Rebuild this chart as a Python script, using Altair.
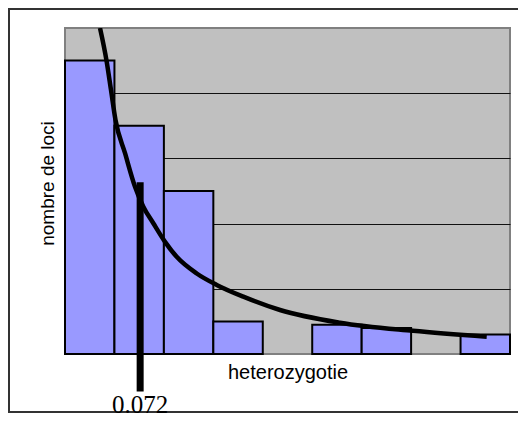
import altair as alt
import pandas as pd

# Histogram bins (bin index units along heterozygotie axis)
bin_start = [0, 1, 2, 3, 4, 5, 6, 7, 8]
bin_end = [1, 2, 3, 4, 5, 6, 7, 8, 9]
counts = [9, 7, 5, 1, 0, 0.9, 0.8, 0, 0.6]

# Fitted curve
curve_x = [0.708, 0.843, 0.930, 1.021, 1.214, 1.416, 1.584, 1.786, 2.023, 2.259,
           2.664, 3.068, 3.606, 4.349, 5.562, 7.039, 8.529]
curve_y = [10.0, 8.97, 8.10, 7.18, 6.16, 5.13, 4.52, 4.01, 3.44, 2.98,
           2.47, 2.12, 1.76, 1.35, 0.96, 0.71, 0.53]

# Marker line at the observed value
marker_x = [1.52]
marker_top = [5.27]
marker_bottom = [-1.15]
marker_label = ["0.072"]
label_y = [-1.81]

W, H = 445, 326

bars_df = pd.DataFrame({"start": bin_start, "end": bin_end, "count": counts})
curve_df = pd.DataFrame({"x": curve_x, "y": curve_y})
marker_df = pd.DataFrame({"x": marker_x, "top": marker_top, "bottom": marker_bottom,
                          "label": marker_label, "ly": label_y})

xscale = alt.Scale(domain=[0, 9], nice=False, zero=False)
yscale = alt.Scale(domain=[0, 10], nice=False)

x_axis = alt.Axis(title="heterozygotie", labels=False, ticks=False, domain=False,
                  grid=False, titleFont="Liberation Sans", titleFontSize=20,
                  titleFontWeight="normal", titleColor="black", titlePadding=8)
y_axis = alt.Axis(title="nombre de loci", labels=False, ticks=False, domain=False,
                  grid=True, values=[2, 4, 6, 8], gridColor="#111111", gridWidth=1,
                  gridOpacity=1, titleFont="Liberation Sans", titleFontSize=19,
                  titleFontWeight="normal", titleColor="black", titlePadding=8,
                  titleY=155)

border = alt.Chart(alt.Data(values=[{}])).mark_rect(
    fill="white", fillOpacity=0, stroke="#333333", strokeWidth=2
).encode(
    x=alt.value(-56), x2=alt.value(W + 40),
    y=alt.value(-19), y2=alt.value(384),
)

bars = alt.Chart(bars_df).transform_filter("datum.count > 0").mark_rect(
    fill="#9999FF", stroke="black", strokeWidth=2
).encode(
    x=alt.X("start:Q", scale=xscale, axis=x_axis),
    x2="end:Q",
    y=alt.Y("count:Q", scale=yscale, axis=y_axis),
    y2=alt.datum(0),
)

curve = alt.Chart(curve_df).mark_line(
    color="black", strokeWidth=4.5, interpolate="monotone", clip=True
).encode(
    x=alt.X("x:Q", scale=xscale, axis=x_axis),
    y=alt.Y("y:Q", scale=yscale, axis=y_axis),
)

marker = alt.Chart(marker_df).mark_rule(color="black", strokeWidth=7).encode(
    x=alt.X("x:Q", scale=xscale, axis=x_axis),
    y=alt.Y("top:Q", scale=yscale, axis=y_axis),
    y2="bottom:Q",
)

label = alt.Chart(marker_df).mark_text(
    font="Liberation Serif", fontSize=25, color="black", baseline="alphabetic", align="center"
).encode(
    x=alt.X("x:Q", scale=xscale, axis=x_axis),
    y=alt.Y("ly:Q", scale=yscale, axis=y_axis),
    text="label:N",
)

chart = alt.layer(border, bars, curve, marker, label).properties(
    width=W, height=H,
    autosize=alt.AutoSizeParams(type="none"),
    padding={"left": 57, "top": 20, "right": 8, "bottom": 63},
).configure_view(
    fill="#C0C0C0", stroke="#808080", strokeWidth=2
)

chart.save("out.html", embed_options={"renderer": "svg", "actions": False})
